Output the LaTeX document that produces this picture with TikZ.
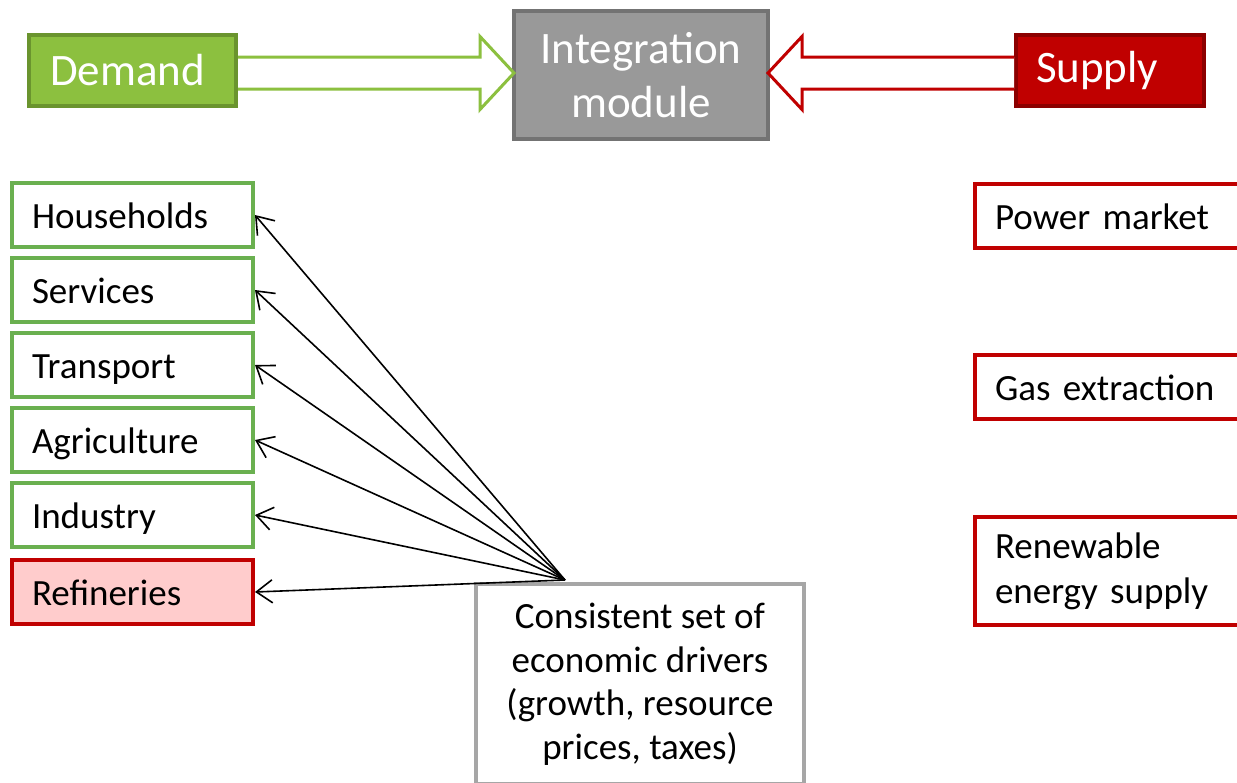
\documentclass[tikz,border=0pt]{standalone}
\usepackage{fontspec}
\setmainfont{Carlito}
\usetikzlibrary{arrows.meta,calc}

\definecolor{demfill}{HTML}{8CC03F}
\definecolor{demline}{HTML}{6A942E}
\definecolor{intfill}{HTML}{999999}
\definecolor{intline}{HTML}{737373}
\definecolor{supfill}{HTML}{C00000}
\definecolor{supline}{HTML}{8C0000}
\definecolor{secgreen}{HTML}{6AB050}
\definecolor{secred}{HTML}{C00000}
\definecolor{refill}{HTML}{FFCCCC}
\definecolor{drvline}{HTML}{A6A6A6}

\begin{document}
\begin{tikzpicture}[x=1pt,y=-1pt,
  headbox/.style={line width=4pt, text=white, font=\fontsize{45}{54}\selectfont},
  sector/.style={draw=secgreen, fill=white, line width=4pt, minimum width=241pt,
    minimum height=64pt, text width=201pt, inner xsep=20pt, align=left,
    text height=32pt, text depth=6pt, font=\fontsize{37}{45}\selectfont},
  supbox/.style={draw=secred, fill=white, line width=4pt, minimum width=284pt,
    minimum height=64pt, text width=244pt, inner xsep=20pt, align=left,
    font=\fontsize{37}{45}\selectfont},
  garrow/.style={draw=demfill, fill=white, line width=3pt, line join=miter},
  rarrow/.style={draw=supfill, fill=white, line width=3pt, line join=miter},
  conn/.style={-{Straight Barb[length=16pt,width=23pt]}, line width=1.6pt}]

\clip (0,0) rectangle (1237,782);
\fill[white] (0,0) rectangle (1237,782);

% top row: demand, integration module, supply
\node[headbox, fill=demfill, draw=demline, minimum width=207pt, minimum height=71pt,
  text width=165pt, inner xsep=21pt, align=left] (dem) at (132.5,70.5) {Demand};
\node[headbox, fill=intfill, draw=intline, minimum width=254pt, minimum height=128pt,
  align=center] (intg) at (641,75) {Integration\\module};
\node[headbox, fill=supfill, draw=supline, minimum width=188pt, minimum height=71pt,
  text width=168pt, inner xsep=10pt, align=left] (sup) at (1110,70.5) {\hspace*{10pt}Supply};

% block arrows feeding the integration module
\coordinate (gs) at ($(dem.east)+(0,2.5)$);
\coordinate (gt) at ($(intg.west)+(2,-2)$);
\draw[garrow] ($(gs)+(0,-16)$) -- ($(gt)+(-34,-16)$) -- ($(gt)+(-34,-36.5)$) -- (gt)
  -- ($(gt)+(-34,36.5)$) -- ($(gt)+(-34,16)$) -- ($(gs)+(0,16)$);
\coordinate (ss) at ($(sup.west)+(0,2.5)$);
\coordinate (rt) at ($(intg.east)+(-2,-2)$);
\draw[rarrow] ($(ss)+(0,-16)$) -- ($(rt)+(34,-16)$) -- ($(rt)+(34,-36.5)$) -- (rt)
  -- ($(rt)+(34,36.5)$) -- ($(rt)+(34,16)$) -- ($(ss)+(0,16)$);

% demand sectors
\node[sector] (hh)  at (132.5,215) {Households};
\node[sector] (ser) at (132.5,290) {Services};
\node[sector] (tra) at (132.5,365) {Transport};
\node[sector] (agr) at (132.5,440) {Agriculture};
\node[sector] (ind) at (132.5,515) {Industry};
\node[sector, draw=secred, fill=refill] (ref) at (132.5,592) {Refineries};

% supply modules
\node[supbox, text height=32pt, text depth=6pt] (pow) at (1117,216) {Power market};
\node[supbox, text height=32pt, text depth=6pt] (gas) at (1117,387) {Gas extraction};
\node[supbox, minimum height=108pt] (ren) at (1117,571) {Renewable\\energy supply};

% economic drivers
\node[draw=drvline, fill=white, line width=4pt, minimum width=328pt, minimum height=200pt,
  align=center, font=\fontsize{37}{43.5}\selectfont] (drvbox) at (640,684)
  {Consistent set of\\economic drivers\\(growth, resource\\prices, taxes)};
\coordinate (drv) at ($(drvbox.north west)+(91,-2)$);

\foreach \s in {hh,ser,tra,agr,ind,ref}
  \draw[conn] (drv) -- (\s.east);
\end{tikzpicture}
\end{document}
